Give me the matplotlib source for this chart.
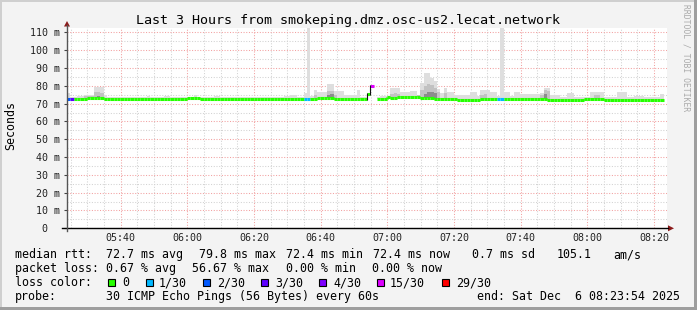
import numpy as np
import pandas as pd
import matplotlib
matplotlib.use("Agg")
import matplotlib.pyplot as plt
import matplotlib.dates as mdates
from matplotlib.lines import Line2D
from matplotlib.patches import Polygon, Rectangle

W, H = 697, 310
nan = np.nan

# ---------------- data ----------------
start_time = "2025-12-06 05:23:54"
end_time = "2025-12-06 08:23:54"

# median rtt per minute (ms)
median_ms = [
    72.4, 72.4, 72.4, 72.4, 72.4, 72.4, 73.2, 73.2, 73.2, 73.2,
    73.2, 72.4, 72.4, 72.4, 72.4, 72.4, 72.4, 72.4, 72.4, 72.4,
    72.4, 72.4, 72.4, 72.4, 72.4, 72.4, 72.4, 72.4, 72.4, 72.4,
    72.4, 72.4, 72.4, 72.4, 72.4, 72.4, 73.1, 73.1, 73.1, 73.1,
    72.4, 72.4, 72.4, 72.4, 72.4, 72.4, 72.4, 72.4, 72.4, 72.4,
    72.4, 72.4, 72.4, 72.4, 72.4, 72.4, 72.4, 72.4, 72.4, 72.4,
    72.4, 72.4, 72.4, 72.4, 72.4, 72.4, 72.4, 72.4, 72.4, 72.9,
    72.9, 72.6, 72.6, 72.6, 72.6, 73.2, 73.2, 73.2, 73.2, 73.2,
    72.4, 72.4, 72.6, 72.6, 72.6, 72.6, 72.6, 72.4, 72.4, 72.4,
    75.6, 79.8, nan, 72.9, 72.9, 72.9, 73.6, 73.3, 73.3, 73.6,
    73.6, 73.6, 73.6, 73.6, 73.6, 73.6, 73.3, 73.3, 73.3, 73.3,
    72.5, 72.5, 72.5, 72.5, 72.5, 72.5, 72.5, 72.1, 72.1, 72.1,
    72.1, 72.1, 72.1, 72.1, 72.5, 72.5, 72.5, 72.4, 72.4, 72.4,
    72.4, 72.9, 72.9, 72.9, 72.9, 72.9, 72.9, 72.9, 72.9, 72.9,
    72.9, 72.9, 72.9, 72.9, 72.1, 72.1, 72.1, 72.1, 72.1, 72.1,
    72.1, 72.1, 72.1, 72.1, 72.1, 72.8, 72.8, 72.8, 72.8, 72.8,
    72.8, 72.3, 72.3, 72.3, 72.3, 72.3, 72.3, 72.3, 72.3, 72.3,
    72.3, 72.3, 72.3, 72.3, 72.3, 72.3, 72.3, 72.3, 72.3, nan,
]

# highest ping per minute (ms) -> light smoke
smoke_max_ms = [
    75.8, 74.0, 73.5, 74.3, 74.3, 75.0, 75.0, 75.0, 79.1, 79.1,
    79.1, 74.6, 73.5, 73.5, 73.5, 73.5, 73.5, 73.5, 73.5, 73.5,
    73.5, 73.5, 73.5, 73.5, 74.3, 73.5, 73.5, 73.5, 73.5, 74.1,
    74.1, 73.5, 73.5, 73.5, 73.5, 73.5, 73.5, 73.8, 74.6, 73.8,
    73.5, 73.5, 73.5, 73.5, 74.3, 74.3, 73.5, 73.9, 73.9, 73.9,
    73.9, 73.5, 73.5, 73.5, 73.5, 73.9, 73.9, 73.5, 73.5, 73.5,
    73.5, 73.5, 73.5, 73.5, 73.5, 74.3, 74.3, 74.6, 74.6, 73.8,
    74.0, 75.8, 112.8, 74.5, 77.7, 76.3, 76.3, 76.3, 80.8, 80.8,
    76.9, 76.9, 76.9, 74.6, 74.6, 74.6, 74.6, 77.7, 74.0, 74.0,
    76.0, 80.2, nan, 74.0, 74.2, 74.2, 74.5, 79.0, 79.0, 79.0,
    76.3, 76.3, 76.3, 76.9, 76.9, 75.0, 81.8, 87.0, 87.0, 84.6,
    82.7, 78.0, 76.0, 79.0, 76.3, 76.3, 74.6, 74.6, 74.6, 74.6,
    74.6, 76.5, 76.5, 74.3, 77.7, 77.7, 77.7, 76.3, 76.3, 74.5,
    112.8, 76.5, 76.5, 74.5, 76.7, 76.7, 75.2, 75.2, 75.2, 75.2,
    75.2, 75.2, 76.0, 79.0, 79.0, 74.6, 74.6, 74.6, 73.5, 73.5,
    75.8, 75.8, 73.5, 73.5, 73.5, 74.0, 74.0, 76.5, 76.5, 76.5,
    76.5, 74.0, 74.0, 73.5, 73.5, 76.7, 76.7, 76.7, 74.0, 74.0,
    74.3, 74.3, 74.3, 74.0, 74.0, 74.0, 74.0, 74.0, 75.4, nan,
]

# denser smoke (medium grey) tops
mid_minutes = [5, 6, 7, 8, 9, 10, 74, 78, 79, 80, 97, 98, 99, 105, 106, 107,
               108, 109, 110, 111, 113, 124, 125, 142, 143, 144, 158, 159]
mid_tops_ms = [74.5, 74.5, 74.5, 76.5, 76.5, 76.0, 75.0, 77.0, 77.0, 75.0,
               75.5, 76.0, 75.5, 75.0, 77.5, 80.0, 81.0, 80.5, 79.0, 76.5,
               76.0, 75.0, 75.5, 75.0, 77.5, 77.0, 74.8, 74.8]
# densest smoke (dark grey) tops
core_minutes = [9, 78, 79, 107, 108, 109, 110, 143]
core_tops_ms = [74.5, 75.0, 75.5, 75.5, 76.5, 76.5, 76.0, 75.5]

# packet loss per minute (out of 30)
loss_minutes = [0, 1, 71, 72, 91, 129, 130]
loss_counts = [2, 3, 1, 1, 17, 1, 1]

loss_thresholds = [0, 1, 2, 3, 4, 15, 29]
loss_colors = ["#26ff00", "#00b8ff", "#0059ff", "#5e00ff", "#7e00ff", "#dd00ff", "#ff0000"]
loss_labels = ["0", "1/30", "2/30", "3/30", "4/30", "15/30", "29/30"]

y_ticks = [0, 10, 20, 30, 40, 50, 60, 70, 80, 90, 100, 110]
y_tick_labels = ["0  ", "10 m", "20 m", "30 m", "40 m", "50 m", "60 m",
                 "70 m", "80 m", "90 m", "100 m", "110 m"]
y_top = 112.5

title = "Last 3 Hours from smokeping.dmz.osc-us2.lecat.network"
legend_line1 = [(16, "median rtt:"), (107, "72.7 ms avg"), (200, "79.8 ms max"),
                (287, "72.4 ms min"), (374, "72.4 ms now"), (473, "0.7 ms sd"),
                (558, "105.1"), (614, "am/s")]
legend_line2 = [(16, "packet loss:"), (107, "0.67 % avg"), (193, "56.67 % max"),
                (287, "0.00 % min"), (373, "0.00 % now")]
legend_line4 = [(16, "probe:"), (107, "30 ICMP Echo Pings (56 Bytes) every 60s"),
                (478, "end: Sat Dec  6 08:23:54 2025")]
box_x = [108, 146, 203, 261, 319, 377, 442]
box_label_x = [123, 160, 218, 276, 334, 391, 457]

# ---------------- figure ----------------
MONO = "DejaVu Sans Mono"
fig = plt.figure(figsize=(W / 100, H / 100), dpi=100, facecolor="#f3f3f3")

def fx(x):
    return x / W

def fy(y):
    return 1 - y / H

# 3D frame
fig.add_artist(Rectangle((0, 0), fx(2), 1, transform=fig.transFigure, color="#cfcfcf", lw=0))
fig.add_artist(Rectangle((0, fy(2)), 1, 2 / H, transform=fig.transFigure, color="#cfcfcf", lw=0))
fig.add_artist(Rectangle((fx(694), 0), 3 / W, 1, transform=fig.transFigure, color="#9e9e9e", lw=0))
fig.add_artist(Rectangle((0, 0), 1, 3 / H, transform=fig.transFigure, color="#9e9e9e", lw=0))

ax_l, ax_r, ax_t, ax_b = 67, 667, 28, 228.3
ax = fig.add_axes([fx(ax_l), fy(ax_b), (ax_r - ax_l) / W, (ax_b - ax_t) / H])
ax.set_facecolor("white")
for s in ax.spines.values():
    s.set_visible(False)

t0 = mdates.date2num(pd.Timestamp(start_time))
t1 = mdates.date2num(pd.Timestamp(end_time))
one_min = 1.0 / 1440.0
n = len(median_ms)
tstart = t0 + np.arange(n) * one_min
med = np.array(median_ms, dtype=float)
smax = np.array(smoke_max_ms, dtype=float)

ax.set_xlim(t0, t1)
ax.set_ylim(0, y_top)

# grid
ax.set_yticks(y_ticks)
ax.set_yticklabels(y_tick_labels)
ax.set_yticks(np.arange(5, 115, 10), minor=True)
ax.xaxis.set_major_locator(mdates.MinuteLocator(byminute=[0, 20, 40]))
ax.xaxis.set_minor_locator(mdates.MinuteLocator(byminute=range(0, 60, 5)))
ax.xaxis.set_major_formatter(mdates.DateFormatter("%H:%M"))
ax.set_axisbelow(True)
ax.grid(which="minor", color="#d2d2d2", lw=0.75, ls=(0, (1, 1.6)))
ax.grid(which="major", color="#f2a0a0", lw=0.75, ls=(0, (1, 1.6)))
ax.tick_params(axis="x", which="both", length=0, pad=3.6, labelsize=7.2, labelcolor="#222222")
ax.tick_params(axis="y", which="major", length=2.2, width=0.8, color="#444444", pad=2.9,
               labelsize=7.2, labelcolor="#222222", direction="out")
ax.tick_params(axis="y", which="minor", length=0)
for lab in ax.get_xticklabels() + ax.get_yticklabels():
    lab.set_fontfamily(MONO)

# smoke
ok = ~np.isnan(med) & ~np.isnan(smax)
ax.bar(tstart[ok], smax[ok] - med[ok], bottom=med[ok], width=one_min, align="edge",
       color="#dedede", linewidth=0, zorder=2)
mm = np.array(mid_minutes)
ax.bar(tstart[mm], np.array(mid_tops_ms) - med[mm], bottom=med[mm], width=one_min,
       align="edge", color="#c2c2c2", linewidth=0, zorder=2.1)
cm = np.array(core_minutes)
ax.bar(tstart[cm], np.array(core_tops_ms) - med[cm], bottom=med[cm], width=one_min,
       align="edge", color="#8c8c8c", linewidth=0, zorder=2.2)

# median line coloured by loss
loss_full = np.zeros(n, dtype=int)
loss_full[loss_minutes] = loss_counts

def color_for(c):
    col = loss_colors[0]
    for th, cc in zip(loss_thresholds, loss_colors):
        if c >= th:
            col = cc
    return col

cols = [color_for(c) for c in loss_full]
valid = ~np.isnan(med)
ax.hlines(med[valid], tstart[valid], tstart[valid] + one_min,
          colors=[c for c, v in zip(cols, valid) if v], lw=2.2, capstyle="butt", zorder=4)
for i in range(n - 1):
    a, b = med[i], med[i + 1]
    if np.isnan(a) or np.isnan(b) or a == b:
        continue
    if abs(b - a) < 1.5:
        ax.vlines(tstart[i + 1], min(a, b), max(a, b), colors=loss_colors[0], lw=2.2, zorder=3.9)
    else:
        ax.vlines(tstart[i + 1], min(a, b) - 0.6, max(a, b) + 0.6, colors="#111111", lw=0.8, zorder=4.1)

# axes lines & arrows (pixel positions)
fig.add_artist(Line2D([fx(62), fx(668)], [fy(ax_b), fy(ax_b)], transform=fig.transFigure,
                      color="#000000", lw=1.0))
fig.add_artist(Line2D([fx(ax_l), fx(ax_l)], [fy(231), fy(25)], transform=fig.transFigure,
                      color="#555555", lw=1.0))
fig.add_artist(Polygon([[fx(668), fy(ax_b - 3)], [fx(674), fy(ax_b)], [fx(668), fy(ax_b + 3)]],
                       closed=True, transform=fig.transFigure, color="#8b1a1a", lw=0))
fig.add_artist(Polygon([[fx(64), fy(26.5)], [fx(67), fy(21)], [fx(70), fy(26.5)]],
                       closed=True, transform=fig.transFigure, color="#8b1a1a", lw=0))

# texts
fig.text(fx(348), fy(24), title, ha="center", va="baseline", family=MONO, fontsize=9.6, color="#000000")
fig.text(fx(11), fy(126), "Seconds", rotation=90, ha="center", va="center", family=MONO,
         fontsize=8.4, color="#000000")
fig.text(fx(686), fy(58), "RRDTOOL / TOBI OETIKER", rotation=270, ha="center", va="center",
         family=MONO, fontsize=5.8, color="#aaaaaa")

for x, s in legend_line1:
    fig.text(fx(x - 1), fy(258.3), s, ha="left", va="baseline", family=MONO, fontsize=8.4, color="#000000")
for x, s in legend_line2:
    fig.text(fx(x - 1), fy(272.3), s, ha="left", va="baseline", family=MONO, fontsize=8.4, color="#000000")
fig.text(fx(15), fy(286.3), "loss color:", ha="left", va="baseline", family=MONO, fontsize=8.4, color="#000000")
for bx, lx, lab, col in zip(box_x, box_label_x, loss_labels, loss_colors):
    fig.add_artist(Rectangle((fx(bx), fy(286)), 7 / W, 7.5 / H, transform=fig.transFigure,
                             facecolor=col, edgecolor="#000000", lw=0.8))
    fig.text(fx(lx - 1), fy(286.3), lab, ha="left", va="baseline", family=MONO, fontsize=8.4, color="#000000")
for x, s in legend_line4:
    fig.text(fx(x - 1), fy(300.3), s, ha="left", va="baseline", family=MONO, fontsize=8.4, color="#000000")

fig.savefig("out.png", dpi=100, facecolor=fig.get_facecolor())
